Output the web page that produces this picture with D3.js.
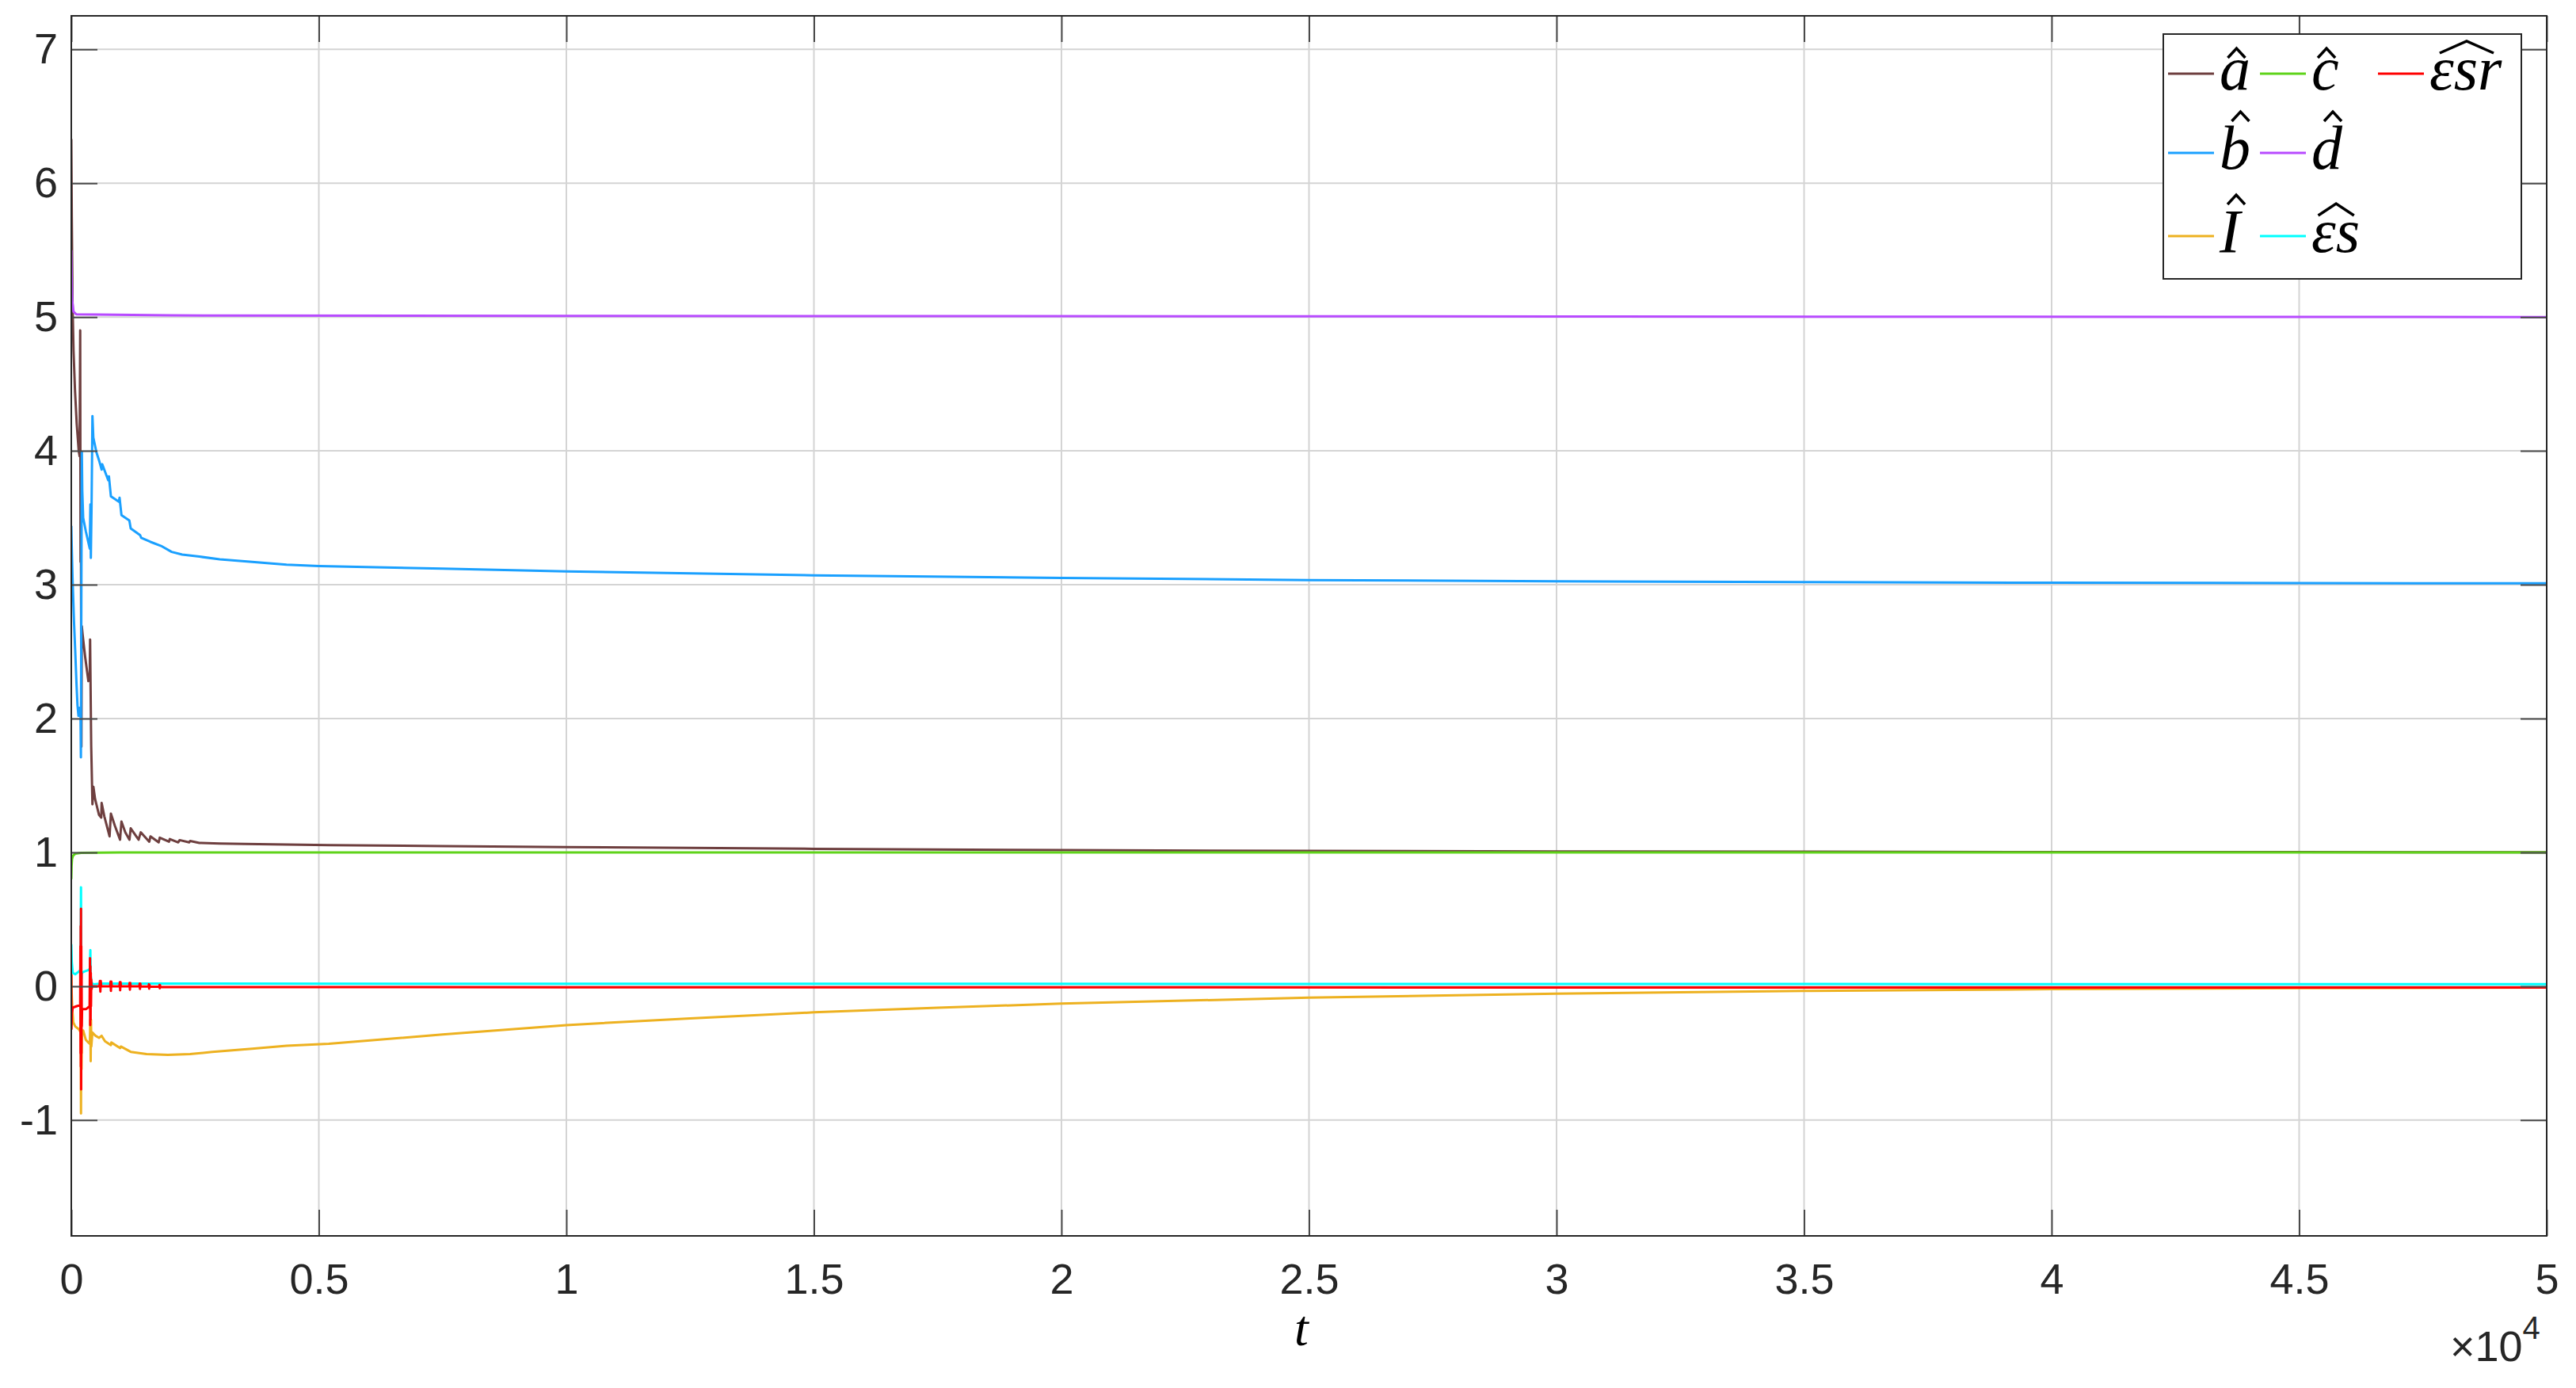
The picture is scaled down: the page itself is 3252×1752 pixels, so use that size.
<!DOCTYPE html>
<html>
<head>
<meta charset="utf-8">
<script src="https://cdn.jsdelivr.net/npm/d3@7"></script>
<style>
  body { margin: 0; background: #fff; }
</style>
</head>
<body>
<script>
// series values, [t, value]
const aHat = [[0, 6.33], [10, 5.75], [25, 5.1], [45, 4.75], [75, 4.45], [110, 4.2], [150, 4.0], [168, 3.96],
  [180, 4.9], [187, 3.17], [196, 3.22], [204, 1.79], [212, 2.69], [228, 2.63], [280, 2.46], [345, 2.28],
  [372, 2.3], [380, 2.59], [402, 1.8], [427, 1.36], [447, 1.49], [480, 1.4], [560, 1.28], [605, 1.26],
  [613, 1.37], [667, 1.27], [773, 1.12], [800, 1.29], [880, 1.2], [985, 1.095], [1013, 1.23], [1090, 1.15],
  [1175, 1.095], [1200, 1.18], [1360, 1.095], [1403, 1.15], [1575, 1.08], [1600, 1.12], [1765, 1.075],
  [1787, 1.11], [1973, 1.08], [1990, 1.1], [2160, 1.075], [2187, 1.092], [2380, 1.075], [2400, 1.085],
  [2587, 1.071], [3000, 1.067], [3500, 1.063], [4350, 1.059], [5200, 1.055], [7500, 1.047], [10000, 1.04],
  [15000, 1.027], [20000, 1.017], [25000, 1.011], [30000, 1.007], [35000, 1.005], [40000, 1.003],
  [45000, 1.002], [50000, 1.001]];

const bHat = [[0, 3.44], [8, 3.3], [25, 3.05], [55, 2.72], [80, 2.5], [105, 2.26], [125, 2.1], [145, 2.02],
  [165, 2.08], [186, 2.05], [194, 1.71], [204, 3.0], [213, 3.99], [222, 3.7], [240, 3.5], [293, 3.4],
  [373, 3.27], [386, 3.6], [395, 3.2], [410, 3.6], [427, 4.26], [445, 4.1], [507, 3.99], [560, 3.93],
  [613, 3.86], [625, 3.9], [747, 3.78], [760, 3.81], [800, 3.66], [960, 3.62], [975, 3.65], [1013, 3.52],
  [1173, 3.48], [1200, 3.42], [1390, 3.37], [1413, 3.35], [1600, 3.32], [1813, 3.29], [2027, 3.245],
  [2240, 3.225], [2587, 3.21], [3000, 3.19], [3653, 3.17], [4347, 3.15], [5000, 3.14], [7500, 3.12],
  [10000, 3.1], [15000, 3.07], [20000, 3.05], [25000, 3.035], [30000, 3.025], [35000, 3.02],
  [40000, 3.015], [45000, 3.012], [50000, 3.01]];

const iHat = [[0, 0.09], [8, -0.05], [20, -0.17], [40, -0.27], [80, -0.3], [150, -0.32], [185, -0.34],
  [190, -0.05], [196, -0.95], [201, -0.2], [206, -0.62], [215, -0.33], [240, -0.33], [293, -0.4],
  [345, -0.42], [375, -0.43], [385, -0.25], [392, -0.56], [398, -0.25], [405, -0.45], [427, -0.345],
  [490, -0.37], [560, -0.385], [613, -0.37], [680, -0.41], [800, -0.44], [810, -0.42], [987, -0.462],
  [1000, -0.45], [1200, -0.49], [1520, -0.507], [1950, -0.513], [2400, -0.507], [2850, -0.49],
  [3650, -0.467], [4350, -0.444], [5200, -0.43], [7500, -0.36], [10000, -0.29], [12500, -0.24],
  [15000, -0.195], [17500, -0.16], [20000, -0.13], [25000, -0.085], [30000, -0.055], [35000, -0.035],
  [40000, -0.022], [45000, -0.014], [50000, -0.01]];

const cHat = [[0, 0.8], [6, 0.9], [15, 0.95], [35, 0.975], [80, 0.99], [200, 0.997], [1000, 1.0], [50000, 1.0]];

const dHat = [[0, 5.5], [8, 5.3], [20, 5.12], [45, 5.04], [100, 5.02], [2000, 5.012], [10000, 5.008],
  [30000, 5.004], [50000, 5.0]];

const esHat = [[0, 0.315], [10, 0.18], [30, 0.1], [80, 0.09], [150, 0.11], [182, 0.12], [190, 0.3],
  [196, 0.74], [202, 0.05], [210, 0.1], [260, 0.11], [340, 0.12], [375, 0.13], [385, 0.27], [392, 0.08],
  [410, 0.03], [440, 0.015], [600, 0.02], [50000, 0.015]];

const esrHat = [[0, 0.09], [3, -0.32], [12, -0.2], [30, -0.16], [100, -0.15], [180, -0.14], [184, 0.3],
  [187, -0.5], [190, 0.45], [193, -0.6], [196, 0.58], [199, -0.77], [202, 0.3], [205, -0.5], [208, 0.1],
  [212, -0.3], [218, -0.17], [300, -0.17], [370, -0.15], [378, 0.21], [382, -0.29], [386, 0.15],
  [390, -0.25], [394, 0.1], [398, -0.15], [404, 0.05], [412, -0.02], [420, 0],
  [570, 0], [578, 0.04], [587, -0.04], [595, 0.04], [604, 0],
  [785, 0], [793, 0.035], [800, -0.035], [808, 0.035], [816, 0],
  [972, 0], [980, 0.03], [987, -0.03], [995, 0.03], [1003, 0],
  [1170, 0], [1177, 0.025], [1184, -0.025], [1191, 0.025], [1198, 0],
  [1374, 0], [1381, 0.02], [1387, -0.02], [1394, 0.02], [1400, -0.002],
  [1562, -0.002], [1568, 0.015], [1573, -0.018], [1579, 0.012], [1585, -0.004],
  [1778, -0.004], [1783, 0.01], [1787, -0.015], [1792, 0.008], [1797, -0.005],
  [2500, -0.006], [10000, -0.008], [50000, -0.01]];

const yTicks = [-1, 0, 1, 2, 3, 4, 5, 6, 7];
const xTicks = [0, 5000, 10000, 15000, 20000, 25000, 30000, 35000, 40000, 45000, 50000];

const series = [
  { name: "a", values: aHat, color: "#6e3f3f" },
  { name: "b", values: bHat, color: "#1aa0ff" },
  { name: "I", values: iHat, color: "#edb120" },
  { name: "c", values: cHat, color: "#5fd31a" },
  { name: "d", values: dHat, color: "#b84bff" },
  { name: "εs", values: esHat, color: "#00ffff" },
  { name: "εsr", values: esrHat, color: "#ff0000" }
];

const margin = { top: 20, right: 37, bottom: 192, left: 90 },
  width = 3252 - margin.left - margin.right,
  height = 1752 - margin.top - margin.bottom;

const svg = d3.select("body")
  .append("svg")
  .attr("width", width + margin.left + margin.right)
  .attr("height", height + margin.top + margin.bottom)
  .style("display", "block");

const g = svg.append("g")
  .attr("transform", `translate(${margin.left},${margin.top})`);

const x = d3.scaleLinear().domain([0, 50000]).range([0, width]);
const y = d3.scaleLinear().domain([-1.865, 7.25]).range([height, 0]);

// grid
g.append("g").selectAll("line")
  .data(xTicks)
  .enter().append("line")
  .attr("x1", d => x(d)).attr("x2", d => x(d))
  .attr("y1", 0).attr("y2", height)
  .attr("stroke", "#d4d4d4").attr("stroke-width", 2);

g.append("g").selectAll("line")
  .data(yTicks)
  .enter().append("line")
  .attr("x1", 0).attr("x2", width)
  .attr("y1", d => y(d)).attr("y2", d => y(d))
  .attr("stroke", "#d4d4d4").attr("stroke-width", 2);

// data lines
svg.append("defs").append("clipPath").attr("id", "plotclip")
  .append("rect").attr("width", width).attr("height", height);

const line = d3.line()
  .x(d => x(d[0]))
  .y(d => y(d[1]));

g.append("g").attr("clip-path", "url(#plotclip)")
  .selectAll("path")
  .data(series)
  .enter().append("path")
  .attr("d", d => line(d.values))
  .attr("fill", "none")
  .attr("stroke", d => d.color)
  .attr("stroke-width", 3)
  .attr("stroke-linejoin", "round");

// axes, ticks inside on all four sides
const tickLen = 33;
function styleAxis(sel) {
  sel.select(".domain").remove();
  sel.selectAll(".tick line").attr("stroke", "#4a4a4a").attr("stroke-width", 2);
  sel.selectAll("text")
    .style("font-family", "'Liberation Sans', Arial, sans-serif")
    .style("font-size", "54px")
    .attr("fill", "#262626");
}

g.append("g")
  .attr("transform", `translate(0,${height})`)
  .call(d3.axisBottom(x).tickValues(xTicks).tickSizeInner(-tickLen).tickSizeOuter(0)
    .tickPadding(35).tickFormat(d => d / 10000))
  .call(styleAxis);

g.append("g")
  .call(d3.axisTop(x).tickValues(xTicks).tickSizeInner(-tickLen).tickSizeOuter(0).tickFormat(""))
  .call(styleAxis);

g.append("g")
  .call(d3.axisLeft(y).tickValues(yTicks).tickSizeInner(-tickLen).tickSizeOuter(0)
    .tickPadding(17).tickFormat(d => d < 0 ? "-" + Math.abs(d) : d))
  .call(styleAxis);

g.append("g")
  .attr("transform", `translate(${width},0)`)
  .call(d3.axisRight(y).tickValues(yTicks).tickSizeInner(-tickLen).tickSizeOuter(0).tickFormat(""))
  .call(styleAxis);

g.append("rect")
  .attr("width", width).attr("height", height)
  .attr("fill", "none").attr("stroke", "#262626").attr("stroke-width", 2);

// axis label and exponent
g.append("text")
  .attr("x", 1553).attr("y", 1678)
  .attr("text-anchor", "middle")
  .style("font-family", "'Liberation Serif', 'Times New Roman', serif")
  .style("font-style", "italic")
  .style("font-size", "64px")
  .attr("fill", "#000")
  .text("t");

const expo = g.append("text")
  .attr("x", 3003).attr("y", 1698)
  .style("font-family", "'Liberation Sans', Arial, sans-serif")
  .style("font-size", "54px")
  .attr("fill", "#262626");
expo.append("tspan").text("×10");
expo.append("tspan").attr("dy", -28).style("font-size", "40px").text("4");

// legend (3 rows, filled column by column)
const legend = svg.append("g").attr("transform", "translate(2731,43)");
legend.append("rect")
  .attr("width", 452).attr("height", 309)
  .attr("fill", "#fff").attr("stroke", "#262626").attr("stroke-width", 2);

const colX = [6, 122, 271], rowY = [50, 150, 255];
const hatKind = { a: "short", b: "tall", I: "tall", c: "short", d: "tall", "εs": "wide", "εsr": "wide" };

series.forEach((s, i) => {
  const cx = colX[Math.floor(i / 3)], cy = rowY[i % 3];
  legend.append("line")
    .attr("x1", cx).attr("x2", cx + 58)
    .attr("y1", cy).attr("y2", cy)
    .attr("stroke", s.color).attr("stroke-width", 3);
  const tx = legend.append("text")
    .attr("x", cx + 65).attr("y", cy + 20)
    .style("font-family", "'Liberation Serif', 'Times New Roman', serif")
    .style("font-style", "italic")
    .style("font-size", "78px")
    .attr("fill", "#000")
    .text(s.name);
  const bb = tx.node().getBBox();
  const base = cy + 20;
  const kind = hatKind[s.name];
  let p;
  if (kind === "wide") {
    const x0 = bb.x + bb.width * 0.14, x1 = bb.x + bb.width * 0.88;
    p = `M${x0},${base - 46} L${(x0 + x1) / 2},${base - 61} L${x1},${base - 46}`;
  } else {
    const mid = bb.x + bb.width * 0.55 + (kind === "tall" ? 5 : 0);
    const top = kind === "tall" ? base - 72 : base - 52;
    p = `M${mid - 11},${top + 12} L${mid},${top} L${mid + 11},${top + 12}`;
  }
  legend.append("path")
    .attr("d", p)
    .attr("fill", "none").attr("stroke", "#000").attr("stroke-width", 3.5)
    .attr("stroke-linejoin", "miter");
});
</script>
</body>
</html>
